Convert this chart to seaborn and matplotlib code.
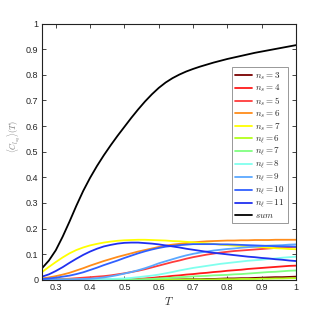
import numpy as np
import pandas as pd
import seaborn as sns
import matplotlib
matplotlib.use('Agg')
import matplotlib.pyplot as plt

# temperature grid, 0.26 .. 1.00 step 0.02
T = [round(0.26 + 0.02 * i, 2) for i in range(38)]

ns3 = [0] * 19 + [0.001, 0.001, 0.002, 0.002, 0.002, 0.003, 0.003, 0.004, 0.005, 0.005,
                  0.006, 0.006, 0.007, 0.008, 0.009, 0.010, 0.010, 0.011, 0.012]
ns4 = [0] * 11 + [0.001, 0.001, 0.002, 0.003, 0.005, 0.007, 0.010, 0.012, 0.015, 0.017,
                  0.020, 0.022, 0.025, 0.027, 0.030, 0.032, 0.035, 0.037, 0.039, 0.042,
                  0.044, 0.046, 0.048, 0.050, 0.052, 0.054, 0.055]
ns5 = [0.001, 0.001, 0.002, 0.003, 0.004, 0.006, 0.008, 0.010, 0.012, 0.014,
       0.017, 0.021, 0.025, 0.030, 0.035, 0.041, 0.048, 0.055, 0.062, 0.069,
       0.075, 0.082, 0.088, 0.093, 0.098, 0.102, 0.106, 0.109, 0.112, 0.114,
       0.116, 0.118, 0.120, 0.122, 0.124, 0.125, 0.127, 0.128]
ns6 = [0.005, 0.009, 0.014, 0.020, 0.027, 0.036, 0.045, 0.055, 0.064, 0.073,
       0.081, 0.089, 0.096, 0.103, 0.110, 0.116, 0.122, 0.128, 0.133, 0.137,
       0.140, 0.143, 0.146, 0.148, 0.150, 0.151, 0.152, 0.153, 0.153, 0.154,
       0.154, 0.155, 0.155, 0.155, 0.156, 0.156, 0.156, 0.156]
ns7 = [0.030, 0.050, 0.069, 0.087, 0.103, 0.116, 0.126, 0.134, 0.140, 0.145,
       0.149, 0.152, 0.154, 0.155, 0.156, 0.156, 0.155, 0.154, 0.153, 0.151,
       0.150, 0.148, 0.146, 0.144, 0.142, 0.140, 0.137, 0.135, 0.133, 0.132,
       0.130, 0.128, 0.127, 0.125, 0.123, 0.122, 0.120, 0.119]
nl6 = [0] * 21 + [0.001, 0.001, 0.001, 0.001, 0.001, 0.002, 0.002, 0.002, 0.003, 0.003,
                  0.003, 0.004, 0.004, 0.005, 0.005, 0.006, 0.006]
nl7 = [0] * 13 + [0.001, 0.001, 0.002, 0.003, 0.005, 0.006, 0.008, 0.010, 0.011, 0.013,
                  0.014, 0.015, 0.017, 0.018, 0.019, 0.021, 0.022, 0.024, 0.026, 0.028,
                  0.030, 0.031, 0.033, 0.035, 0.036]
nl8 = [0] * 7 + [0.001, 0.001, 0.002, 0.003, 0.004, 0.005, 0.007, 0.010, 0.013, 0.016,
                 0.020, 0.025, 0.030, 0.036, 0.041, 0.046, 0.050, 0.054, 0.058, 0.062,
                 0.065, 0.068, 0.071, 0.074, 0.076, 0.078, 0.081, 0.083, 0.086, 0.088,
                 0.090]
nl9 = [0, 0, 0.001, 0.001, 0.001, 0.002, 0.003, 0.004, 0.006, 0.009,
       0.013, 0.018, 0.024, 0.030, 0.037, 0.045, 0.054, 0.064, 0.072, 0.080,
       0.088, 0.095, 0.101, 0.106, 0.110, 0.114, 0.117, 0.120, 0.122, 0.125,
       0.127, 0.129, 0.131, 0.133, 0.134, 0.135, 0.137, 0.138]
nl10 = [0.003, 0.005, 0.008, 0.012, 0.016, 0.022, 0.029, 0.038, 0.047, 0.057,
        0.066, 0.075, 0.085, 0.094, 0.103, 0.111, 0.118, 0.124, 0.129, 0.132,
        0.135, 0.137, 0.139, 0.139, 0.139, 0.139, 0.138, 0.138, 0.137, 0.136,
        0.135, 0.134, 0.133, 0.132, 0.131, 0.130, 0.130, 0.129]
nl11 = [0.012, 0.021, 0.034, 0.049, 0.066, 0.082, 0.097, 0.110, 0.121, 0.130,
        0.136, 0.141, 0.144, 0.145, 0.145, 0.143, 0.141, 0.138, 0.134, 0.130,
        0.126, 0.121, 0.117, 0.113, 0.109, 0.105, 0.102, 0.099, 0.096, 0.093,
        0.090, 0.088, 0.085, 0.083, 0.080, 0.078, 0.075, 0.073]
total = [0.045, 0.075, 0.115, 0.168, 0.227, 0.289, 0.347, 0.398, 0.444, 0.486,
         0.525, 0.562, 0.597, 0.632, 0.665, 0.696, 0.724, 0.749, 0.770, 0.787,
         0.801, 0.813, 0.823, 0.832, 0.840, 0.848, 0.855, 0.862, 0.868, 0.874,
         0.880, 0.886, 0.891, 0.896, 0.901, 0.906, 0.911, 0.916]

labels = [r'$n_s = 3$', r'$n_s = 4$', r'$n_s = 5$', r'$n_s = 6$', r'$n_s = 7$',
          r'$n_\ell = 6$', r'$n_\ell = 7$', r'$n_\ell = 8$', r'$n_\ell = 9$',
          r'$n_\ell = 10$', r'$n_\ell = 11$', r'$sum$']
series = [ns3, ns4, ns5, ns6, ns7, nl6, nl7, nl8, nl9, nl10, nl11, total]
colors = ['#7a0000', '#ff1a1a', '#ff3c3c', '#ff8c1a', '#ffff00',
          '#b2ff1a', '#80ff80', '#80ffee', '#5aa8ff', '#3060ff', '#2030f0', '#000000']

frames = []
for lab, vals in zip(labels, series):
    assert len(vals) == len(T), lab
    frames.append(pd.DataFrame({'T': T, 'C': vals, 'series': lab}))
df = pd.concat(frames, ignore_index=True)

sns.set_style('ticks')
plt.rcParams['font.family'] = ['Liberation Sans', 'DejaVu Sans']
plt.rcParams['mathtext.fontset'] = 'cm'

fig = plt.figure(figsize=(3.26, 3.15), dpi=100)
ax = fig.add_axes([0.129, 0.112, 0.779, 0.813])

sns.lineplot(data=df, x='T', y='C', hue='series', hue_order=labels,
             palette=dict(zip(labels, colors)), linewidth=1.3, ax=ax)

ax.set_xlim(0.26, 1)
ax.set_ylim(0, 1)
ax.set_xticks([0.3, 0.4, 0.5, 0.6, 0.7, 0.8, 0.9, 1])
ax.set_xticklabels(['0.3', '0.4', '0.5', '0.6', '0.7', '0.8', '0.9', '1'])
ax.set_yticks(np.arange(0, 1.01, 0.1))
ax.set_yticklabels(['0', '0.1', '0.2', '0.3', '0.4', '0.5', '0.6', '0.7', '0.8', '0.9', '1'])
ax.tick_params(direction='in', top=True, right=True, labelsize=6.5, length=3, width=0.6, pad=2.5)
for s in ax.spines.values():
    s.set_linewidth(0.8)
    s.set_color('#222222')

ax.set_xlabel(r'$T$', fontsize=8, labelpad=2)
ax.set_ylabel(r'$\langle C_{l_{ag}}\rangle(T)$', fontsize=6, color='#777777')
ax.yaxis.set_label_coords(-0.075, 0.56)

leg = ax.legend(loc='upper left', bbox_to_anchor=(0.748, 0.83), fontsize=6.5,
                frameon=True, fancybox=False, framealpha=1, edgecolor='#888888',
                handlelength=1.9, handletextpad=0.3, labelspacing=0.1,
                borderpad=0.35, borderaxespad=0)
leg.get_frame().set_linewidth(0.6)

plt.savefig('out.png', dpi=100)
